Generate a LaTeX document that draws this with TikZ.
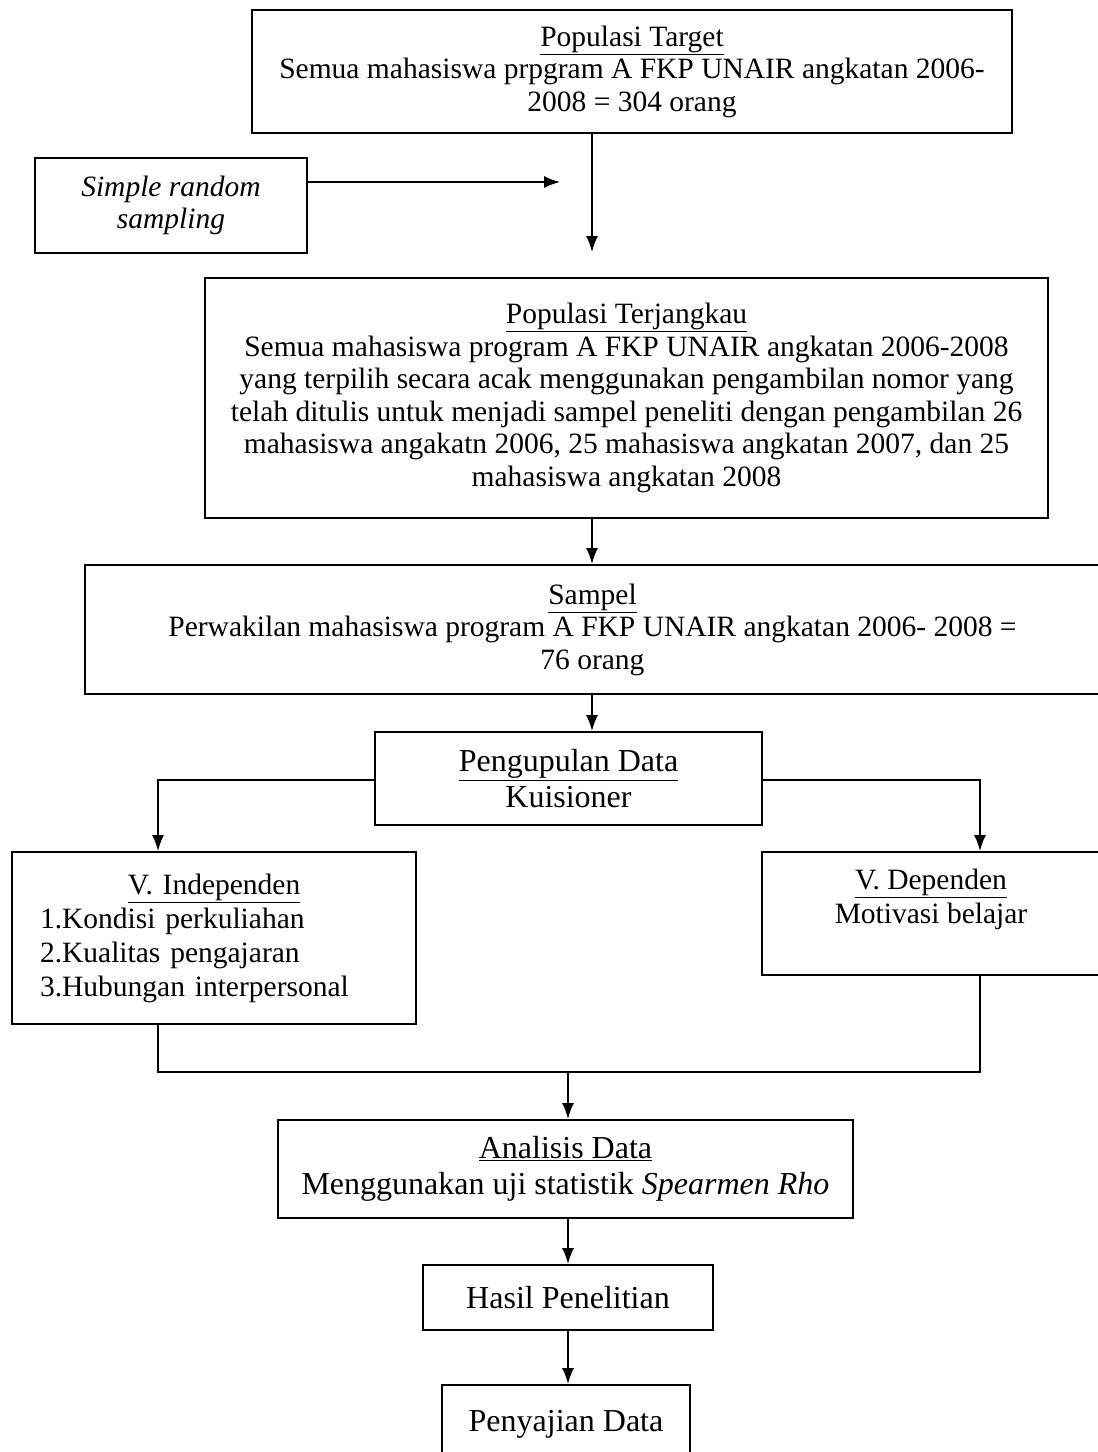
\documentclass[tikz,border=0pt]{standalone}
\usepackage{fontspec}
\setmainfont{Liberation Serif}
\usetikzlibrary{arrows.meta,positioning}

\tikzset{
  box/.style={draw, rectangle, line width=2pt, align=center, inner sep=0pt,
    font=\fontsize{29.5}{32.5}\selectfont},
  bigbox/.style={box, font=\fontsize{32}{36}\selectfont},
  link/.style={line width=1.6pt, ->},
}

\begin{document}
\begin{tikzpicture}[x=1pt, y=-1pt, >={Latex[length=16pt,width=12pt]}]
        \useasboundingbox (0,0) rectangle (1098,1452);

        % populasi dan sampel
        \node[box, minimum width=760pt, minimum height=123pt] (target) at (632,71.5)
            {\underline{Populasi Target}\\Semua mahasiswa prpgram A FKP UNAIR angkatan 2006-\\2008 = 304 orang};
        \node[box, minimum width=272pt, minimum height=95pt] (srs) at (171,205.5)
            {\itshape Simple random\\\itshape sampling};
        \node[box, minimum width=843pt, minimum height=240pt] (terj) at (626.5,398)
            {\underline{Populasi Terjangkau}\\
             Semua mahasiswa program A FKP UNAIR angkatan 2006-2008\\
             yang terpilih secara acak menggunakan pengambilan nomor yang\\
             telah ditulis untuk menjadi sampel peneliti dengan pengambilan 26\\
             mahasiswa angakatn 2006, 25 mahasiswa angkatan 2007, dan 25\\
             mahasiswa angkatan 2008};
        \node[box, minimum width=1015pt, minimum height=129pt] (sampel) at (592.5,629.5)
            {\underline{Sampel}\\Perwakilan mahasiswa program A FKP UNAIR angkatan 2006- 2008 =\\76 orang};

        % pengumpulan data dan variabel
        \node[bigbox, minimum width=387pt, minimum height=93pt] (kumpul) at (568.5,778.5)
            {\underline{Pengupulan Data}\\Kuisioner};
        \node[box, align=left, text width=348pt, inner xsep=28pt, minimum height=172pt,
              font=\fontsize{29.5}{34}\selectfont] (indep) at (214,938)
            {\hspace*{88pt}\underline{V. Independen}\\
             1.Kondisi perkuliahan\\
             2.Kualitas pengajaran\\
             3.Hubungan interpersonal};
        \node[box, minimum width=338pt, minimum height=123pt,
              font=\fontsize{29.5}{34}\selectfont] (dep) at (931,913.5)
            {\underline{V. Dependen}\\Motivasi belajar\\\mbox{}};

        % analisis dan hasil
        \node[bigbox, minimum width=575pt, minimum height=98pt] (analisis) at (565.5,1169)
            {\underline{Analisis Data}\\Menggunakan uji statistik \textit{Spearmen Rho}};
        \node[bigbox, minimum width=290pt, minimum height=65pt] (hasil) at (568,1297.5)
            {Hasil Penelitian};
        \node[bigbox, minimum width=248pt, minimum height=80pt] (sajian) at (566,1425)
            {\raisebox{8pt}{Penyajian Data}};

        % titik bantu
        \coordinate (c0) at (560,182);
        \coordinate (c1) at (592,252);
        \coordinate (kl) at (158,780);
        \coordinate (kr) at (980,780);
        \coordinate (jn) at (568,1072);

        % panah
        \draw[link] (c1 |- target.south) -- (c1);
        \draw[link] (srs.east |- c0) -- (c0);
        \draw[link] (c1 |- terj.south) -- (c1 |- sampel.north);
        \draw[link] (c1 |- sampel.south) -- (c1 |- kumpul.north);
        \draw[link] (kumpul.west |- kl) -- (kl) -- (kl |- indep.north);
        \draw[link] (kumpul.east |- kr) -- (kr) -- (kr |- dep.north);
        \draw[line width=1.6pt] (kl |- indep.south) -- (kl |- jn) -- (kr |- jn) -- (kr |- dep.south);
        \draw[link] (jn) -- (jn |- analisis.north);
        \draw[link] (jn |- analisis.south) -- (jn |- hasil.north);
        \draw[link] (jn |- hasil.south) -- (jn |- sajian.north);
    \end{tikzpicture}
\end{document}
